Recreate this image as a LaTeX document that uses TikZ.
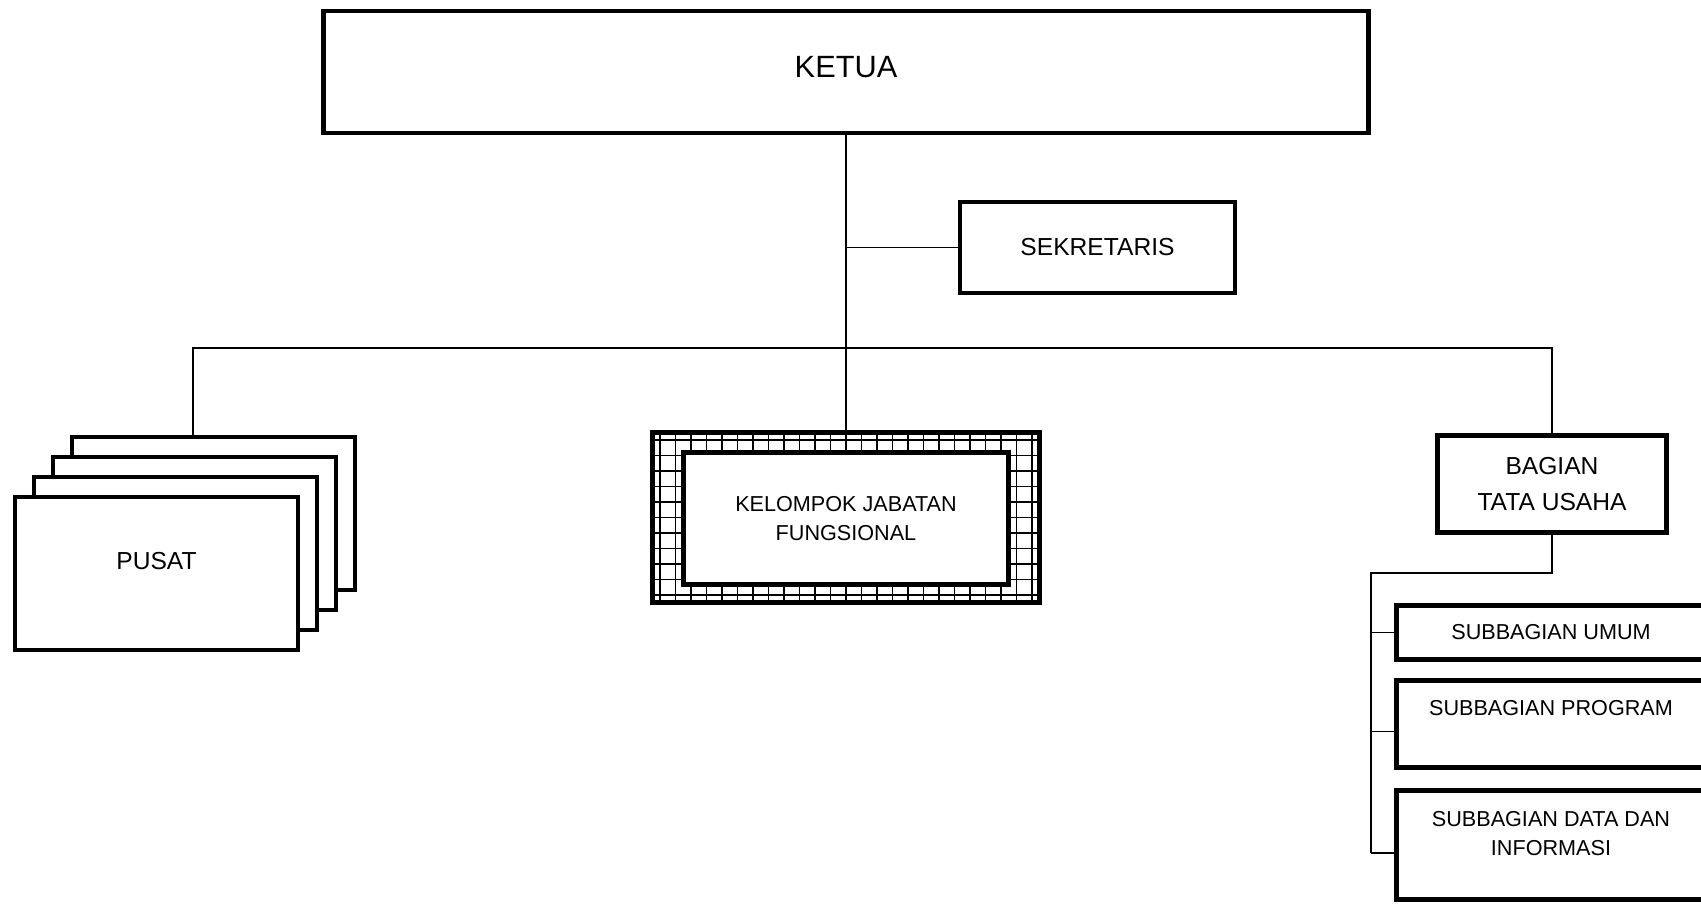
\documentclass[tikz,border=0pt]{standalone}
\usepackage{fontspec}
\setmainfont{Liberation Sans}
\usetikzlibrary{positioning, calc}

\begin{document}
\begin{tikzpicture}[
    unit/.style={rectangle, draw=black, fill=white, line width=2.6pt,
                 text centered, align=center, inner sep=0pt},
    hatched/.style={unit, path picture={
        \draw[line width=1pt, step=0.31cm]
            (path picture bounding box.south west) grid
            (path picture bounding box.north east);}},
    link/.style={line width=1pt},
    bigfont/.style={font=\fontsize{17.5}{21}\selectfont},
    midfont/.style={font=\fontsize{14}{20}\selectfont},
    smallfont/.style={font=\fontsize{12.3}{17}\selectfont}
]
    \useasboundingbox (0,0) rectangle (34.02,-18.06);
    \clip (0,0) rectangle (34.02,-18.06);

    % top
    \node[unit, bigfont, text depth=0.22cm, minimum width=20.9cm, minimum height=2.44cm] (ketua) at (16.92,-1.44) {KETUA};
    \node[unit, midfont, minimum width=5.5cm, minimum height=1.82cm] (sek) at (21.95,-4.95) {SEKRETARIS};

    % pusat stack
    \foreach \i in {3,2,1}
        \node[unit, minimum width=5.66cm, minimum height=3.06cm] (pusat\i) at ({3.13+0.38*\i},{-11.47+0.4*\i}) {};
    \node[unit, midfont, text depth=0.5cm, minimum width=5.66cm, minimum height=3.06cm] (pusat) at (3.13,-11.47) {PUSAT};

    % kelompok jabatan fungsional
    \node[hatched, minimum width=7.74cm, minimum height=3.4cm] (jafung) at (16.92,-10.35) {};
    \node[unit, smallfont, minimum width=6.5cm, minimum height=2.64cm] (jafungIn) at (16.92,-10.37) {KELOMPOK JABATAN\\FUNGSIONAL};

    % tata usaha
    \node[unit, midfont, minimum width=4.58cm, minimum height=1.94cm] (bagian) at (31.04,-9.68) {BAGIAN\\TATA USAHA};
    \node[unit, smallfont, minimum width=6.17cm, minimum height=1.08cm] (sbUmum) at (31.02,-12.65) {SUBBAGIAN UMUM};
    \node[unit, minimum width=6.17cm, minimum height=1.74cm] (sbProgram) at (31.02,-14.48) {};
    \node[smallfont] (sbProgramText) at (31.02,-14.16) {SUBBAGIAN PROGRAM};
    \node[unit, minimum width=6.17cm, minimum height=2.18cm] (sbData) at (31.02,-16.9) {};
    \node[smallfont, align=center] (sbDataText) at (31.02,-16.67) {SUBBAGIAN DATA DAN\\INFORMASI};

    \coordinate (busL) at (3.86,-6.96);
    \coordinate (tuTurn) at (27.42,-11.46);
    \coordinate (progIn) at ($(sbProgram.west)+(0,-0.15)$);
    \coordinate (dataIn) at ($(sbData.west)+(0,-0.16)$);

    % connectors
    \draw[link] (ketua.south) -- (jafung.north);
    \draw[link] (ketua.south |- sek.west) -- (sek.west);
    \draw[link] (pusat3.north -| busL) -- (busL) -- (busL -| bagian.north) -- (bagian.north);
    \draw[link] (bagian.south) -- (bagian.south |- tuTurn) -- (tuTurn) -- (tuTurn |- dataIn);
    \foreach \b in {sbUmum.west, progIn, dataIn}
        \draw[link] (tuTurn |- \b) -- (\b);
\end{tikzpicture}
\end{document}
